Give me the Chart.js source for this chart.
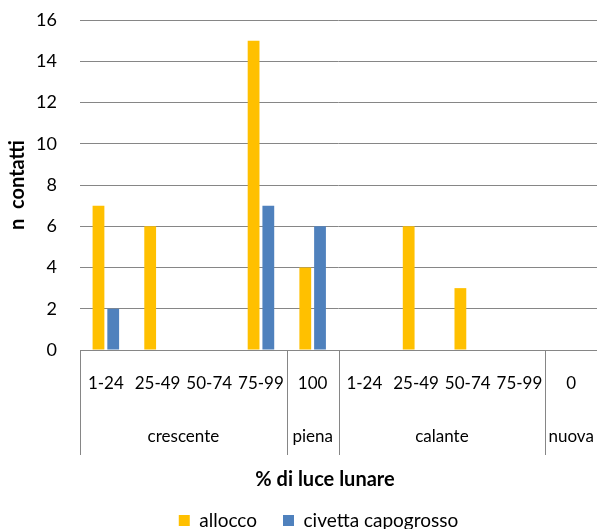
<!DOCTYPE html>
<html>
<head>
<meta charset="utf-8">
<script src="https://cdn.jsdelivr.net/npm/chart.js@4/dist/chart.umd.min.js"></script>
<style>
  html, body { margin: 0; padding: 0; background: #fff; }
  #wrap { width: 597px; height: 529px; position: relative; }
</style>
</head>
<body>
<div id="wrap"><canvas id="chart"></canvas></div>
<script>
// Moon phases and the light-percentage bands inside each phase
const phases = ['crescente', 'piena', 'calante', 'nuova'];
const phaseSpans = [4, 1, 4, 1];
const lightBands = ['1-24', '25-49', '50-74', '75-99', '100', '1-24', '25-49', '50-74', '75-99', '0'];

// Contacts per band
const alloccoContacts = [7, 6, 0, 15, 4, 0, 6, 3, 0, 0];
const civettaContacts = [2, 0, 0, 7, 6, 0, 0, 0, 0, 0];

// Value axis
const yMin = 0;
const yMax = 16;
const yStep = 2;

const FONT = 'Lato, "Open Sans", sans-serif';
const LINE = '#868686';

// Second label row (phases), separators and the category-axis title
const phaseAxis = {
  id: 'phaseAxis',
  afterLayout(chart) {
    const lg = chart.legend;
    if (lg) { lg.left += 20; lg.right += 20; lg.top += 11; lg.bottom += 11; }
  },
  afterDraw(chart) {
    const { ctx, chartArea, scales: { x } } = chart;
    const y0 = chartArea.bottom;
    ctx.save();
    ctx.strokeStyle = LINE;
    ctx.lineWidth = 1;
    let start = 0;
    const edges = [start];
    phaseSpans.forEach(n => { start += n; edges.push(start); });
    edges.slice(0, -1).forEach(i => {
      const px = Math.round(x.getPixelForValue(i - 0.5)) + 0.5;
      ctx.beginPath();
      ctx.moveTo(px, y0);
      ctx.lineTo(px, y0 + 105);
      ctx.stroke();
    });
    ctx.fillStyle = '#000';
    ctx.font = '17px ' + FONT;
    ctx.textAlign = 'center';
    ctx.textBaseline = 'middle';
    phases.forEach((p, k) => {
      const a = x.getPixelForValue(edges[k] - 0.5);
      const b = x.getPixelForValue(edges[k + 1] - 0.5);
      ctx.fillText(p, (a + b) / 2, y0 + 87);
    });
    ctx.font = 'bold 20px ' + FONT;
    ctx.fillText('% di luce lunare', 325, y0 + 130);
    ctx.restore();
  }
};

new Chart(document.getElementById('chart'), {
  type: 'bar',
  data: {
    labels: lightBands,
    datasets: [
      { label: 'allocco', data: alloccoContacts, backgroundColor: '#FFC000' },
      { label: 'civetta capogrosso', data: civettaContacts, backgroundColor: '#4F81BD' }
    ]
  },
  options: {
    responsive: true,
    maintainAspectRatio: false,
    animation: false,
    devicePixelRatio: 1,
    barPercentage: 0.8,
    categoryPercentage: 0.57,
    layout: { padding: { top: 20, right: 0, bottom: 0, left: 0 } },
    plugins: {
      legend: {
        position: 'bottom',
        labels: {
          boxWidth: 11,
          boxHeight: 11,
          padding: 26,
          color: '#000',
          font: { family: FONT, size: 19 }
        }
      },
      tooltip: { enabled: false }
    },
    scales: {
      x: {
        grid: { display: false, drawTicks: false },
        border: { display: true, color: LINE, width: 1 },
        ticks: { color: '#000', padding: 23, maxRotation: 0, autoSkip: false, font: { family: FONT, size: 17 } },
        afterFit(s) {
          s.paddingLeft = 0;
          s.paddingRight = 0;
          s.height = s.chart.height - 350 - (s.chart.legend ? s.chart.legend.height : 0);
        }
      },
      y: {
        min: yMin,
        max: yMax,
        ticks: { stepSize: yStep, color: '#000', padding: 23, font: { family: FONT, size: 18 } },
        grid: { color: LINE, lineWidth: 1, drawTicks: false },
        border: { display: false },
        title: {
          display: true,
          text: 'n  contatti',
          color: '#000',
          font: { family: FONT, size: 20, weight: 'bold' },
          padding: { top: 6, bottom: 0 }
        },
        afterFit(s) {
          s.paddingTop = 0;
          s.paddingBottom = 0;
          s.width = 80;
        }
      }
    }
  },
  plugins: [phaseAxis]
});
</script>
</body>
</html>
